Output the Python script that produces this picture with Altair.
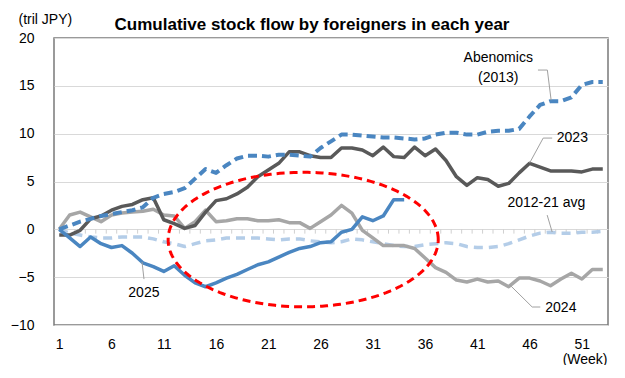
import altair as alt
import pandas as pd
import numpy as np

weeks = list(range(1, 54))

abenomics_2013 = [0.0, 0.4, 0.8, 1.1, 1.4, 1.6, 1.8, 2.0, 2.3, 3.3,
                  3.7, 3.9, 4.3, 5.3, 6.3, 5.9, 6.7, 7.4, 7.7, 7.7,
                  7.6, 7.8, 7.8, 7.7, 7.6, 8.5, 9.2, 9.9, 9.9, 9.8,
                  9.7, 9.6, 9.6, 9.5, 9.4, 9.5, 9.9, 10.1, 10.1, 9.9,
                  9.9, 10.2, 10.3, 10.3, 10.5, 11.8, 13.0, 13.4, 13.4, 13.8,
                  15.1, 15.4, 15.4]

y2023 = [-0.6, -0.6, -0.1, 1.1, 1.4, 2.0, 2.4, 2.6, 3.1, 3.3,
         1.0, 0.6, 0.1, 0.4, 1.8, 3.0, 3.2, 3.7, 4.4, 5.5,
         6.2, 6.9, 8.1, 8.1, 7.7, 7.5, 7.5, 8.5, 8.5, 8.3,
         7.7, 8.6, 7.6, 7.5, 8.6, 7.7, 8.4, 7.2, 5.5, 4.6,
         5.4, 5.2, 4.5, 4.8, 5.9, 6.9, 6.5, 6.1, 6.1, 6.1,
         6.0, 6.3, 6.3]

y2024 = [0.0, 1.5, 1.8, 1.3, 0.8, 1.5, 1.7, 1.8, 1.9, 2.1,
         1.5, 1.4, 0.1, 0.8, 2.0, 0.8, 0.9, 1.1, 1.1, 0.9,
         0.9, 1.0, 0.7, 0.7, 0.1, 0.8, 1.5, 2.5, 1.7, -0.1,
         -0.9, -1.7, -1.7, -1.7, -2.0, -3.0, -4.0, -4.5, -5.3, -5.5,
         -5.2, -5.5, -5.4, -6.0, -5.1, -5.1, -5.4, -5.9, -5.2, -4.6,
         -5.2, -4.2, -4.2]

y2025 = [0.0, -0.9, -1.8, -0.8, -1.5, -1.9, -1.7, -2.5, -3.5, -3.9,
         -4.4, -3.8, -4.8, -5.6, -6.0, -5.6, -5.1, -4.7, -4.2, -3.7,
         -3.4, -2.9, -2.4, -2.0, -1.8, -1.4, -1.3, -0.3, 0.0, 1.3,
         0.9, 1.4, 3.1, 3.1]

avg_2012_21 = [0.0, -0.4, -0.6, -0.8, -0.9, -0.9, -0.8, -0.8, -0.8, -1.0,
               -1.3, -1.5, -1.8, -1.5, -1.2, -1.1, -0.9, -0.9, -0.9, -0.9,
               -1.0, -1.1, -1.0, -1.0, -1.2, -1.3, -1.4, -1.3, -1.0, -1.1,
               -1.3, -1.5, -1.7, -1.8, -1.8, -1.6, -1.5, -1.4, -1.5, -1.8,
               -1.9, -1.9, -1.8, -1.5, -1.1, -0.7, -0.4, -0.3, -0.4, -0.4,
               -0.3, -0.3, -0.2]

x_tick_labels = [1, 6, 11, 16, 21, 26, 31, 36, 41, 46, 51]
y_tick_values = [-10, -5, 0, 5, 10, 15, 20]

# annotation texts and leader lines (data units)
label_text = ["Abenomics", "(2013)", "2023", "2012-21 avg", "2024", "2025"]
label_week = [43.0, 43.0, 48.6, 47.6, 47.5, 9.1]
label_value = [17.9, 15.85, 9.54, 2.75, -8.2, -6.66]
label_align = ["center", "center", "left", "center", "left", "center"]

leader_id = [0, 0, 0, 1, 1, 1, 2, 2, 3, 3, 3, 4, 4]
leader_week = [46.8, 47.7, 48.06, 46.0, 47.3, 48.16, 47.68, 48.16, 44.1, 46.25, 47.02, 8.92, 9.11]
leader_value = [16.65, 16.65, 13.5, 6.93, 9.54, 9.54, 1.49, -0.28, -5.8, -8.12, -8.12, -3.4, -5.2]

# highlighted region (ellipse): centre and radii in data units
ell_cx, ell_cy, ell_rx, ell_ry = 24.34, -1.07, 12.92, 7.03

FONT = "Liberation Sans, Arial, sans-serif"
FS = 14

def series_df(vals):
    return pd.DataFrame({"week": weeks[:len(vals)], "value": vals})

xs = alt.Scale(domain=[0.5, 53.5], nice=False, zero=False)
ys = alt.Scale(domain=[-10, 20], nice=False, zero=False)

X = alt.X("week:Q", scale=xs,
          axis=alt.Axis(values=x_tick_labels, grid=False, ticks=False, domain=False,
                        labelPadding=12, labelFontSize=FS, labelColor="#000000",
                        title="(Week)", titleFontSize=FS, titleFontWeight="normal",
                        titleColor="#000000", titleAnchor="end", titleAlign="right",
                        titleX=553, titleY=34, titleBaseline="middle"))
Y = alt.Y("value:Q", scale=ys,
          axis=alt.Axis(values=y_tick_values, grid=True, gridColor="#d9d9d9",
                        ticks=False, domain=False, labelPadding=20, labelFontSize=FS,
                        labelColor="#000000",
                        title="(tril JPY)", titleAngle=0, titleFontSize=FS,
                        titleFontWeight="normal", titleColor="#000000",
                        titleAlign="left", titleBaseline="alphabetic",
                        titleX=-36, titleY=-15))

def line_layer(vals, color, width, dash=None):
    kw = dict(color=color, strokeWidth=width, strokeJoin="round")
    if dash:
        kw["strokeDash"] = dash
    return alt.Chart(series_df(vals)).mark_line(**kw).encode(x=X, y=Y)

# zero line tick marks at category boundaries
tick_df = pd.DataFrame({"week": [w + 0.5 for w in weeks[:-1]]})
tick_df["value"] = 0.0
tick_df["value2"] = -0.45
zero_ticks = alt.Chart(tick_df).mark_rule(color="#d0d0d0", strokeWidth=1).encode(
    x=X, y=Y, y2="value2:Q")

l_avg = line_layer(avg_2012_21, "#b4cde8", 3.5, [9, 6])
l_2024 = line_layer(y2024, "#a6a6a6", 3.5)
l_2023 = line_layer(y2023, "#595959", 3.5)
l_2013 = line_layer(abenomics_2013, "#4a86c1", 4, [9, 5])
l_2025 = line_layer(y2025, "#4a86c1", 3.5)

t = np.linspace(0, 2 * np.pi, 181)
ell_df = pd.DataFrame({"week": ell_cx + ell_rx * np.cos(t),
                       "value": ell_cy + ell_ry * np.sin(t),
                       "ord": np.arange(len(t))})
ellipse = alt.Chart(ell_df).mark_line(color="#ff0000", strokeWidth=3, strokeDash=[8, 5]).encode(
    x=X, y=Y, order="ord:Q")

lead_df = pd.DataFrame({"id": leader_id, "week": leader_week, "value": leader_value,
                        "ord": list(range(len(leader_id)))})
leaders = alt.Chart(lead_df).mark_line(color="#a0a0a0", strokeWidth=1).encode(
    x=X, y=Y, detail="id:N", order="ord:Q")

lab_df = pd.DataFrame({"text": label_text, "week": label_week, "value": label_value,
                       "align": label_align})
labels_c = alt.Chart(lab_df[lab_df["align"] == "center"]).mark_text(
    fontSize=FS, align="center", baseline="middle", color="#000000").encode(
    x=X, y=Y, text="text:N")
labels_l = alt.Chart(lab_df[lab_df["align"] == "left"]).mark_text(
    fontSize=FS, align="left", baseline="middle", color="#000000").encode(
    x=X, y=Y, text="text:N")

chart = alt.layer(
    zero_ticks, l_avg, l_2024, l_2023, l_2013, l_2025, ellipse, leaders, labels_c, labels_l
).properties(
    width=554, height=287,
    title=alt.TitleParams("Cumulative stock flow by foreigners in each year",
                          fontSize=17, fontWeight="bold", color="#000000",
                          anchor="middle", dx=-19, dy=35, offset=0, baseline="alphabetic"),
    autosize=alt.AutoSizeParams(type="none"),
    padding={"left": 46, "top": 30, "right": 9, "bottom": 40},
).configure(font=FONT).configure_view(stroke="#7a7a7a", strokeWidth=1.5)

chart.save("out.html", embed_options={"renderer": "svg", "actions": False})
